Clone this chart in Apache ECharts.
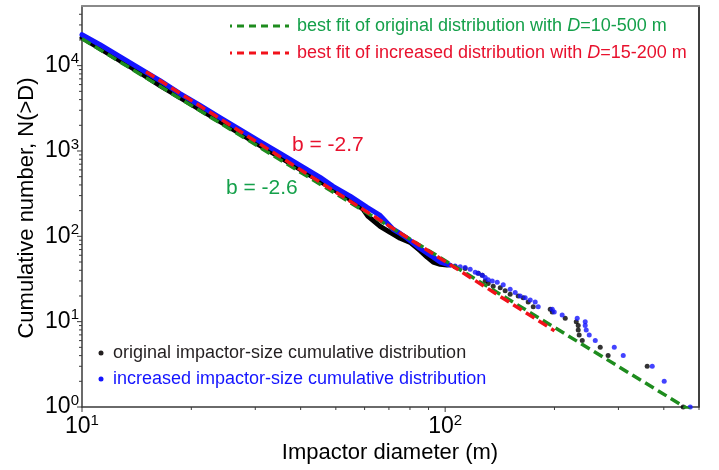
<!DOCTYPE html>
<html>
<head>
<meta charset="utf-8">
<script src="https://cdn.jsdelivr.net/npm/echarts@6/dist/echarts.min.js"></script>
<style>
  html, body { margin: 0; padding: 0; background: #ffffff; }
  #chart { width: 719px; height: 470px; }
</style>
</head>
<body>
<div id="chart"></div>
<script>
// Impactor diameter D (m) vs cumulative number N(>D)

// Densely sampled part of the original distribution (reads as a solid band)
const originalDense = [
  [10.0, 21260], [11.21, 15800], [12.72, 11440], [14.44, 8280], [16.40, 5840],
  [18.62, 4220], [21.14, 3060], [24.00, 2210], [27.25, 1600], [30.94, 1160],
  [35.13, 840], [39.87, 608], [45.27, 440], [51.38, 318], [54.74, 271],
  [59.45, 207], [61.37, 171], [66.21, 131], [70.54, 111], [75.16, 95],
  [80.10, 85], [85.33, 68], [89.20, 57], [92.70, 50], [96.90, 47], [101.3, 46]
];
// Sparse large-impactor part of the original distribution
const originalTail = [
  [106.5, 44], [113.5, 42], [123.3, 37], [126.5, 35], [128.9, 30], [131.4, 28],
  [135.6, 26], [141.8, 25], [146.3, 23], [151.0, 21], [158.9, 20], [164.0, 19],
  [169.3, 17], [174.8, 15], [194.7, 14], [197.2, 13], [214.1, 11], [229.6, 10],
  [232.5, 9], [232.5, 8], [233.9, 7], [238.5, 6], [267.3, 5], [281.0, 4],
  [360.0, 3], [452.3, 1]
];
// Densely sampled part of the increased distribution
const increasedDense = [
  [10.0, 23050], [11.21, 17600], [12.72, 12740], [14.44, 9225], [16.40, 6680],
  [18.62, 4700], [21.14, 3410], [24.00, 2465], [27.25, 1784], [30.94, 1291],
  [35.13, 935], [39.87, 677], [45.27, 490], [49.15, 385], [54.74, 296],
  [60.98, 218], [66.21, 176], [71.90, 121], [75.16, 108], [78.59, 95],
  [85.33, 72], [92.70, 57], [96.90, 50], [103.2, 46]
];
// Sparse large-impactor part of the increased distribution
const increasedTail = [
  [106.5, 45], [110.0, 44], [113.5, 43], [117.2, 41], [121.0, 38], [123.3, 37],
  [126.5, 35], [128.9, 33], [131.4, 31], [134.8, 30], [139.1, 29], [144.5, 27],
  [151.0, 24], [155.9, 22], [160.9, 20], [166.1, 19], [171.5, 18], [177.0, 17],
  [180.4, 15], [197.2, 14], [199.7, 13], [210.0, 12], [231.0, 11], [243.0, 10],
  [243.0, 9], [244.6, 8], [249.3, 7], [259.0, 6], [292.2, 5], [309.3, 4],
  [371.7, 3], [401.0, 2], [473.0, 1]
];

// Power-law fits, end points of each fitted range
const fitOriginal = [[10, 20700], [500, 0.79]];   // b = -2.6, D = 10-500 m
const fitIncreased = [[15, 8500], [200, 7.8]];    // b = -2.7, D = 15-200 m

// Axis ranges and tick positions
const X_MIN = 10, X_MAX = 500;
const Y_MIN = 1, Y_MAX = 50000;
const xMajorTicks = [10, 100];
const xMinorTicks = [20, 30, 40, 50, 60, 70, 80, 90, 200, 300, 400, 500];
const yMajorTicks = [1, 10, 100, 1000, 10000];
const yMinorTicks = [2, 3, 4, 5, 6, 7, 8, 9, 20, 30, 40, 50, 60, 70, 80, 90,
  200, 300, 400, 500, 600, 700, 800, 900, 2000, 3000, 4000, 5000, 6000, 7000,
  8000, 9000, 20000, 30000, 40000];

const FONT = '"Liberation Sans", Arial, Helvetica, sans-serif';
const GREEN_TEXT = '#14a04a';
const GREEN_LINE = '#1e8c1e';
const RED_TEXT = '#e8112d';
const RED_LINE = '#f2111a';
const BLUE = '#1414ff';
const DARK = '#231f20';

const chart = echarts.init(document.getElementById('chart'), null, { renderer: 'canvas' });

function powLabel(v) {
  const e = Math.log10(v);
  if (Math.abs(e - Math.round(e)) > 1e-6) return '';
  return '{b|10}{s|' + Math.round(e) + '}';
}

const labelRich = {
  b: { fontSize: 23, fontFamily: FONT, color: '#000' },
  s: { fontSize: 15, fontFamily: FONT, color: '#000', padding: [0, 0, 13, 0] }
};

// Outside tick marks drawn through the axes' own scales
function tickSeries(values, dim, len) {
  return {
    type: 'custom',
    silent: true,
    clip: false,
    z: 10,
    data: values.map(v => dim === 'x' ? [v, Y_MIN] : [X_MIN, v]),
    renderItem: (params, api) => {
      const p = api.coord([api.value(0), api.value(1)]);
      const shape = dim === 'x'
        ? { x1: p[0], y1: p[1], x2: p[0], y2: p[1] + len }
        : { x1: p[0], y1: p[1], x2: p[0] - len, y2: p[1] };
      return { type: 'line', shape: shape, style: { stroke: '#3a3a3a', lineWidth: 1 } };
    }
  };
}

const option = {
  backgroundColor: '#ffffff',
  animation: false,
  grid: { left: 82, right: 20, top: 6, bottom: 63, containLabel: false },
  xAxis: [
    {
      type: 'log', logBase: 10, min: X_MIN, max: X_MAX,
      axisLine: { show: true, lineStyle: { color: '#3a3a3a', width: 1.5 } },
      axisTick: { show: false },
      splitLine: { show: false },
      axisLabel: { margin: 6, formatter: powLabel, rich: labelRich, showMaxLabel: false }
    },
    {
      type: 'log', logBase: 10, min: X_MIN, max: X_MAX, position: 'top',
      axisLine: { show: true, lineStyle: { color: '#8a8a8a', width: 2 } },
      axisTick: { show: false }, axisLabel: { show: false }, splitLine: { show: false }
    }
  ],
  yAxis: [
    {
      type: 'log', logBase: 10, min: Y_MIN, max: Y_MAX,
      axisLine: { show: true, lineStyle: { color: '#3a3a3a', width: 1.5 } },
      axisTick: { show: false },
      splitLine: { show: false },
      axisLabel: { margin: 3, formatter: powLabel, rich: labelRich, showMaxLabel: false }
    },
    {
      type: 'log', logBase: 10, min: Y_MIN, max: Y_MAX, position: 'right',
      axisLine: { show: true, lineStyle: { color: '#000000', width: 1.5 } },
      axisTick: { show: false }, axisLabel: { show: false }, splitLine: { show: false }
    }
  ],
  series: [
    {
      name: 'original impactor-size cumulative distribution',
      type: 'line', data: originalDense, showSymbol: false, z: 2,
      lineStyle: { color: '#000', width: 5, cap: 'round', join: 'round' }
    },
    {
      name: 'original impactor-size cumulative distribution',
      type: 'scatter', data: originalTail, symbol: 'circle', symbolSize: 5, z: 2,
      itemStyle: { color: '#000' }
    },
    {
      name: 'increased impactor-size cumulative distribution',
      type: 'line', data: increasedDense, showSymbol: false, z: 3,
      lineStyle: { color: BLUE, width: 5, cap: 'round', join: 'round' }
    },
    {
      name: 'increased impactor-size cumulative distribution',
      type: 'scatter', data: increasedTail, symbol: 'circle', symbolSize: 5, z: 3,
      itemStyle: { color: BLUE }
    },
    {
      name: 'best fit of original distribution',
      type: 'line', data: fitOriginal, showSymbol: false, z: 4,
      lineStyle: { color: GREEN_LINE, width: 3.5, type: [10, 5] }
    },
    {
      name: 'best fit of increased distribution',
      type: 'line', data: fitIncreased, showSymbol: false, z: 5,
      lineStyle: { color: RED_LINE, width: 3.5, type: [10, 5] }
    },
    tickSeries(xMajorTicks, 'x', 5),
    tickSeries(xMinorTicks, 'x', 3),
    tickSeries(yMajorTicks, 'y', 5),
    tickSeries(yMinorTicks, 'y', 3)
  ],
  graphic: [
    // fit legend, top right
    { type: 'line', shape: { x1: 230, y1: 26, x2: 289, y2: 26 },
      style: { stroke: GREEN_LINE, lineWidth: 3, lineDash: [7, 5], lineDashOffset: 5 }, z: 20 },
    { type: 'text', x: 297, y: 26, z: 20,
      style: {
        text: '{n|best fit of original distribution with }{i|D}{n|=10-500 m}',
        verticalAlign: 'middle', align: 'left',
        rich: {
          n: { fontSize: 18, fontFamily: FONT, fill: GREEN_TEXT },
          i: { fontSize: 18, fontFamily: FONT, fontStyle: 'italic', fill: GREEN_TEXT }
        }
      } },
    { type: 'line', shape: { x1: 230, y1: 53, x2: 289, y2: 53 },
      style: { stroke: RED_LINE, lineWidth: 3, lineDash: [7, 5], lineDashOffset: 5 }, z: 20 },
    { type: 'text', x: 297, y: 53, z: 20,
      style: {
        text: '{n|best fit of increased distribution with }{i|D}{n|=15-200 m}',
        verticalAlign: 'middle', align: 'left',
        rich: {
          n: { fontSize: 18, fontFamily: FONT, fill: RED_TEXT },
          i: { fontSize: 18, fontFamily: FONT, fontStyle: 'italic', fill: RED_TEXT }
        }
      } },
    // slope annotations
    { type: 'text', x: 292, y: 145, z: 20,
      style: { text: 'b = -2.7', font: '21px ' + FONT, fill: RED_TEXT, verticalAlign: 'middle' } },
    { type: 'text', x: 226, y: 188, z: 20,
      style: { text: 'b = -2.6', font: '21px ' + FONT, fill: GREEN_TEXT, verticalAlign: 'middle' } },
    // data legend, bottom left
    { type: 'circle', shape: { cx: 101, cy: 353, r: 2.5 }, style: { fill: DARK }, z: 20 },
    { type: 'text', x: 113, y: 353, z: 20,
      style: { text: 'original impactor-size cumulative distribution', font: '18px ' + FONT,
        fill: DARK, verticalAlign: 'middle' } },
    { type: 'circle', shape: { cx: 101, cy: 379, r: 2.5 }, style: { fill: BLUE }, z: 20 },
    { type: 'text', x: 113, y: 379, z: 20,
      style: { text: 'increased impactor-size cumulative distribution', font: '18px ' + FONT,
        fill: BLUE, verticalAlign: 'middle' } },
    // axis titles
    { type: 'text', x: 390, y: 453, z: 20,
      style: { text: 'Impactor diameter (m)', font: '22px ' + FONT, fill: '#000',
        align: 'center', verticalAlign: 'middle' } },
    { type: 'text', x: 27, y: 208, rotation: Math.PI / 2, z: 20,
      style: { text: 'Cumulative number, N(>D)', font: '22px ' + FONT, fill: '#000',
        align: 'center', verticalAlign: 'middle' } }
  ]
};

chart.setOption(option);
</script>
</body>
</html>
